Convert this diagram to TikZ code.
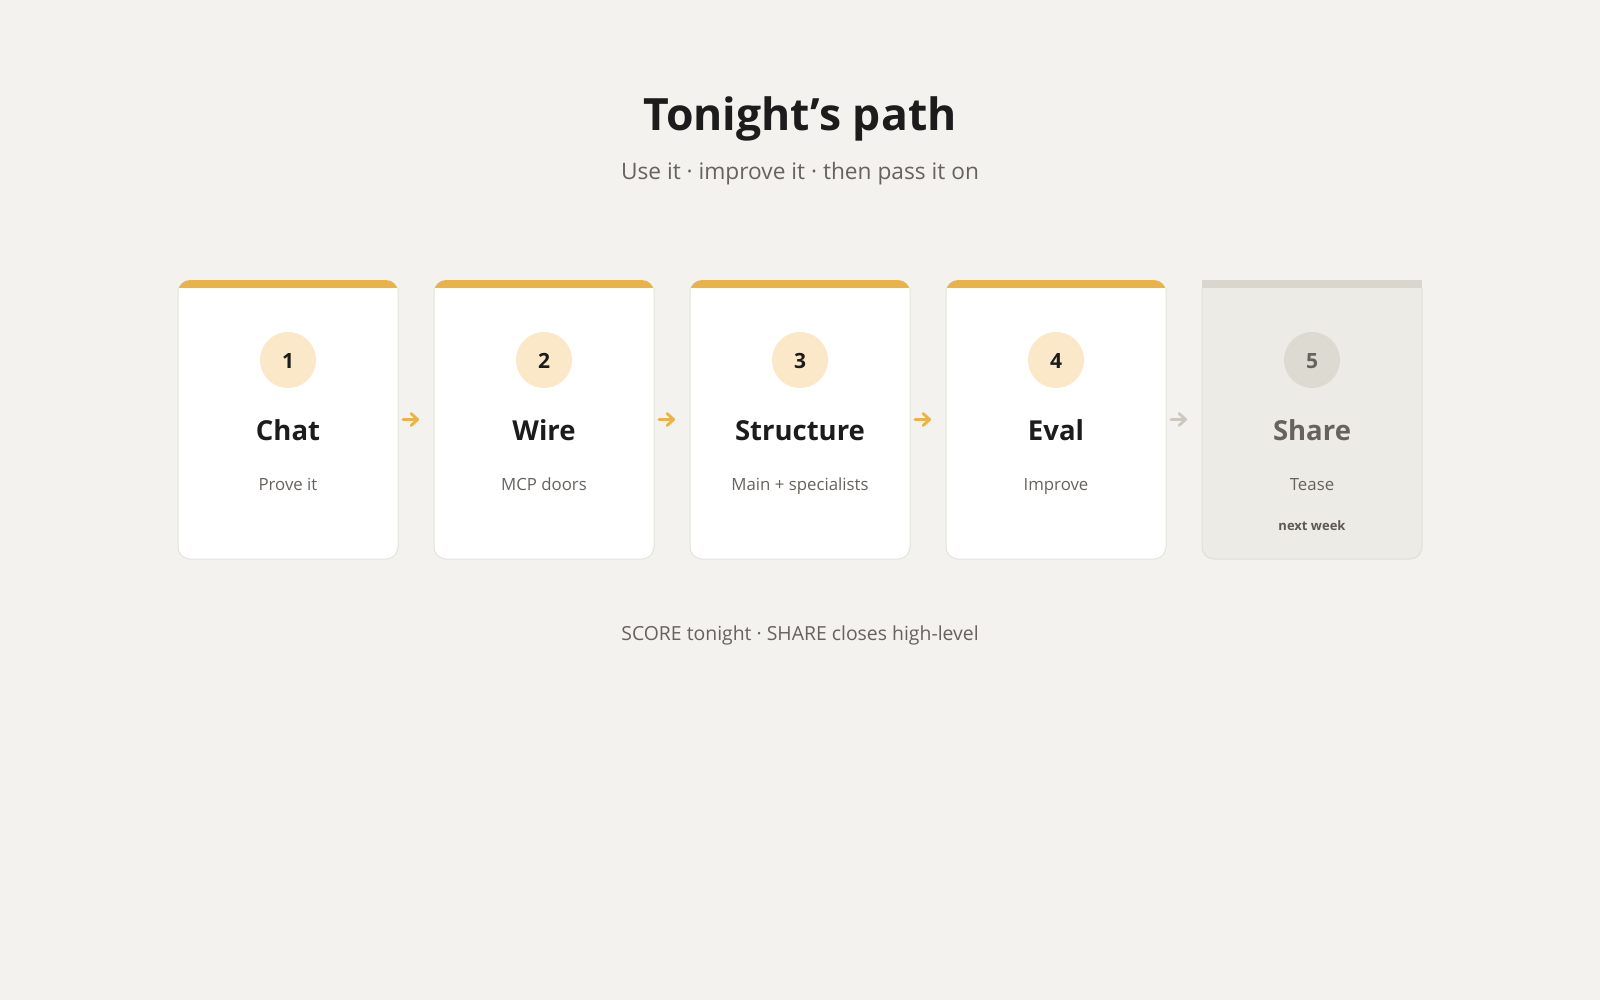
\documentclass[tikz,border=0pt]{standalone}
\usepackage{fontspec}
\setmainfont{Open Sans}
\usetikzlibrary{arrows.meta}
\definecolor{bg}{HTML}{F3F2EE}
\definecolor{cardborder}{HTML}{E5E3DE}
\definecolor{accent}{HTML}{E9B447}
\definecolor{circfill}{HTML}{FAE8C8}
\definecolor{ink}{HTML}{1C1C1C}
\definecolor{muted}{HTML}{67625D}
\definecolor{offfill}{HTML}{ECEBE6}
\definecolor{offbar}{HTML}{D9D6CD}
\definecolor{offcirc}{HTML}{DDDAD2}
\definecolor{offarrow}{HTML}{CDC9C0}
\definecolor{offborder}{HTML}{E1DFD9}
\tikzset{
  numcirc/.style={circle, fill=circfill, minimum size=56pt, inner sep=0pt},
  offnumcirc/.style={circle, fill=offcirc, minimum size=56pt, inner sep=0pt},
  numtext/.style={anchor=base, font=\fontsize{21}{24}\selectfont\bfseries, text=ink},
  cardtitle/.style={anchor=base, font=\fontsize{27.5}{32}\selectfont\bfseries, text=ink},
  cardsub/.style={anchor=base, font=\fontsize{16.8}{20}\selectfont, text=muted},
  flowarrow/.style={draw=accent, line width=2.8pt, line cap=round, -{Straight Barb[length=6.5pt,width=12pt,line cap=round,line join=round]}},
}
\begin{document}
\begin{tikzpicture}[x=1pt,y=-1pt]
\useasboundingbox (0,0) rectangle (1600,1000);
\fill[bg] (0,0) rectangle (1600,1000);

\node[anchor=base, font=\fontsize{44.5}{50}\selectfont\bfseries, text=ink] (title) at (800,130.7) {Tonight’s path};
\node[anchor=base, font=\fontsize{22.7}{27}\selectfont, text=muted] (subtitle) at (800,179.3) {Use it · improve it · then pass it on};

% cards 1-4
\foreach \i/\cx/\ttl/\sub in {1/288/Chat/Prove it, 2/544/Wire/MCP doors, 3/800/Structure/Main + specialists, 4/1056/Eval/Improve}{
  \begin{scope}
    \clip[rounded corners=12pt] (\cx-110,280) rectangle (\cx+110,559);
    \fill[white] (\cx-110,280) rectangle (\cx+110,559);
    \fill[accent] (\cx-110,280) rectangle (\cx+110,288);
  \end{scope}
  \draw[draw=cardborder, line width=1pt, rounded corners=12pt] (\cx-110,288) -- (\cx-110,559) -- (\cx+110,559) -- (\cx+110,288);
  \node[numcirc] (c\i) at (\cx,360) {};
  \node[numtext] (n\i) at (\cx,368) {\i};
  \node[cardtitle] (t\i) at (\cx,440) {\ttl};
  \node[cardsub] (s\i) at (\cx,490) {\sub};
  \coordinate (as\i) at (\cx+115,419.5);
  \coordinate (ae\i) at (\cx+131,419.5);
}

% card 5
\fill[offfill, rounded corners=12pt] (1202,280) rectangle (1422,559);
\draw[draw=offborder, line width=1pt, rounded corners=12pt] (1202,288) -- (1202,559) -- (1422,559) -- (1422,288);
\fill[offbar] (1202,280) rectangle (1422,288);
\node[offnumcirc] (c5) at (1312,360) {};
\node[numtext, text=muted] (n5) at (1312,368) {5};
\node[cardtitle, text=muted] (t5) at (1312,440) {Share};
\node[cardsub] (s5) at (1312,490) {Tease};
\node[anchor=base, font=\fontsize{13}{15}\selectfont\bfseries, text=muted!90!black] (nw) at (1312,530) {next week};

% arrows
\draw[flowarrow] (as1) -- (ae1);
\draw[flowarrow] (as2) -- (ae2);
\draw[flowarrow] (as3) -- (ae3);
\draw[flowarrow, draw=offarrow] (as4) -- (ae4);

\node[anchor=base, font=\fontsize{19.4}{23}\selectfont, text=muted] (footer) at (800,640) {SCORE tonight · SHARE closes high-level};
\end{tikzpicture}
\end{document}
